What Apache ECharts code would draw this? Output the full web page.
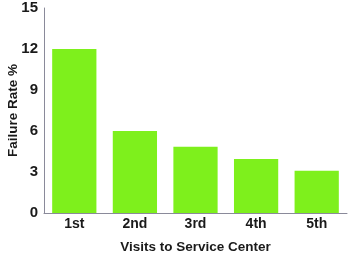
<!DOCTYPE html>
<html><head><meta charset="utf-8">
<script src="https://cdn.jsdelivr.net/npm/echarts@6/dist/echarts.min.js"></script>
<style>html,body{margin:0;padding:0;background:#fff}#c{width:348px;height:263px}</style>
</head><body><div id="c"></div>
<script>
var categories = ['1st','2nd','3rd','4th','5th'];
var failureRate = [12, 6, 4.85, 3.95, 3.1];
var yTicks = [0, 3, 6, 9, 12, 15];

var font = '"Liberation Sans", Arial, sans-serif';
var chart = echarts.init(document.getElementById('c'), null, {renderer:'canvas'});
chart.setOption({
  animation: false,
  grid: {left: 44, right: 1, top: 8, bottom: 50, containLabel: false, outerBoundsMode: 'none'},
  xAxis: {
    type: 'category', data: categories,
    name: 'Visits to Service Center', nameLocation: 'middle', nameGap: 27, nameMoveOverlap: false,
    nameTextStyle: {fontFamily: font, fontWeight: 'bold', fontSize: 13.5, color: '#1a1a1a'},
    axisLine: {lineStyle: {color: '#8a8a9a', width: 1}},
    axisTick: {show: false},
    axisLabel: {fontFamily: font, fontWeight: 'bold', fontSize: 14, color: '#1a1a1a', margin: 4}
  },
  yAxis: {
    type: 'value', min: yTicks[0], max: yTicks[yTicks.length-1], interval: 3,
    name: 'Failure Rate %', nameLocation: 'middle', nameGap: 24, nameMoveOverlap: false,
    nameTextStyle: {fontFamily: font, fontWeight: 'bold', fontSize: 13.5, color: '#1a1a1a'},
    axisLine: {show: true, lineStyle: {color: '#8a8a9a', width: 1}},
    axisTick: {show: false},
    splitLine: {show: false},
    axisLabel: {fontFamily: font, fontWeight: 'bold', fontSize: 15, color: '#1a1a1a', margin: 6}
  },
  series: [{
    type: 'bar', data: failureRate, barCategoryGap: '27%',
    itemStyle: {color: '#7ef01c'}
  }]
});
</script></body></html>
